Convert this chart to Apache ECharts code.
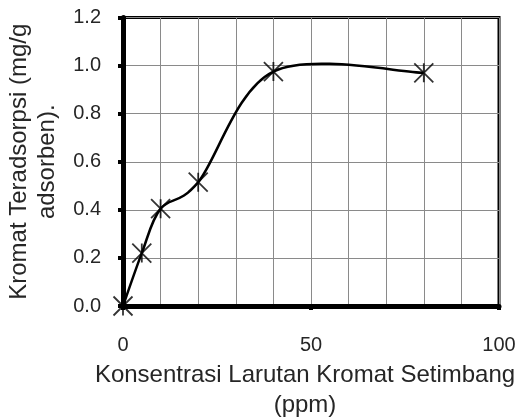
<!DOCTYPE html>
<html><head><meta charset="utf-8">
<script src="https://cdn.jsdelivr.net/npm/echarts@6/dist/echarts.min.js"></script>
<style>html,body{margin:0;padding:0;background:#fff}#c{width:516px;height:417px}</style>
</head><body><div id="c"></div>
<script>
const concentration = [0, 5, 10, 20, 40, 80];
const adsorbed = [0, 0.22, 0.405, 0.515, 0.975, 0.97];
const xTitle = 'Konsentrasi Larutan Kromat Setimbang\n(ppm)';
const yTitle = 'Kromat Teradsorpsi (mg/g\nadsorben).';

const FONT = 'Liberation Sans, Arial, sans-serif';
const TEXT = '#262626';
const points = concentration.map((x, i) => [x, adsorbed[i]]);
const chart = echarts.init(document.getElementById('c'), null, {renderer: 'canvas'});
const gridLine = {show: true, lineStyle: {color: '#8a8a8a', width: 1}};

// Excel-like smoothed curve (Catmull-Rom -> cubic Bezier) in pixel space via the axes
function renderCurve(params, api) {
  const p = points.map(d => api.coord(d));
  const n = p.length;
  const P = i => p[Math.max(0, Math.min(n - 1, i))];
  let d = 'M' + p[0][0] + ',' + p[0][1];
  for (let i = 0; i < n - 1; i++) {
    const a = P(i - 1), b = P(i), c = P(i + 1), e = P(i + 2);
    const c1 = [b[0] + (c[0] - a[0]) / 6, b[1] + (c[1] - a[1]) / 6];
    const c2 = [c[0] - (e[0] - b[0]) / 6, c[1] - (e[1] - b[1]) / 6];
    d += 'C' + c1[0] + ',' + c1[1] + ' ' + c2[0] + ',' + c2[1] + ' ' + c[0] + ',' + c[1];
  }
  return {type: 'path', shape: {pathData: d}, style: {stroke: '#000', lineWidth: 2.5, fill: null}};
}

chart.setOption({
  animation: false,
  backgroundColor: '#fff',
  grid: {left: 123, right: 17, top: 17.5, bottom: 111, outerBoundsMode: 'none', containLabel: false,
         show: true, borderColor: '#000', borderWidth: 3, backgroundColor: 'transparent'},
  xAxis: {
    type: 'value', min: 0, max: 100, interval: 50,
    axisLine: {show: true, onZero: false, lineStyle: {color: '#000', width: 5}},
    axisTick: {show: true, inside: false, length: 4, lineStyle: {color: '#000', width: 4}},
    minorTick: {show: false, splitNumber: 5},
    splitLine: gridLine,
    minorSplitLine: gridLine,
    axisLabel: {color: TEXT, fontFamily: FONT, fontSize: 20, margin: 29},
    name: xTitle, nameLocation: 'middle', nameGap: 48,
    nameTextStyle: {color: TEXT, fontFamily: FONT, fontSize: 24, lineHeight: 30, padding: [0, 12, 0, 0]}
  },
  yAxis: {
    type: 'value', min: 0, max: 1.2, interval: 0.2,
    axisLine: {show: true, lineStyle: {color: '#000', width: 5}},
    axisTick: {show: true, inside: false, length: 5, lineStyle: {color: '#000', width: 4}},
    splitLine: gridLine,
    axisLabel: {color: TEXT, fontFamily: FONT, fontSize: 20, margin: 22, formatter: v => v.toFixed(1)},
    name: yTitle, nameLocation: 'middle', nameGap: 62, nameRotate: 90,
    nameTextStyle: {color: TEXT, fontFamily: FONT, fontSize: 24, lineHeight: 28}
  },
  series: [{
    type: 'custom',
    data: [0],
    renderItem: renderCurve,
    z: 9,
    silent: true
  }, {
    type: 'scatter',
    data: points,
    z: 10,
    symbol: 'path://M0,0L10,10M10,0L0,10M5,0L5,10',
    symbolSize: 19,
    itemStyle: {color: '#000', borderColor: '#000', borderWidth: 1.8}
  }]
});
</script></body></html>
